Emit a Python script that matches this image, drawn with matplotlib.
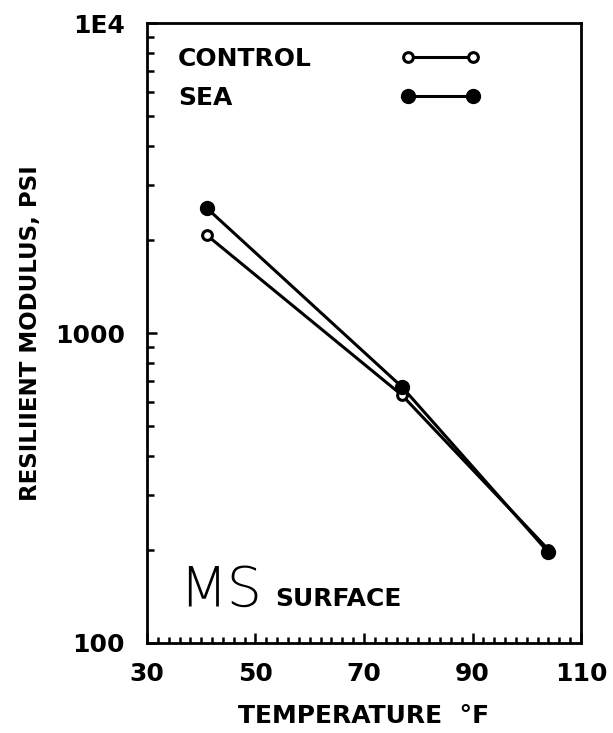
import numpy as np
import matplotlib.pyplot as plt
from matplotlib.ticker import FixedLocator, MultipleLocator, LogLocator, NullFormatter

# temperatures (deg F) and resilient modulus (psi)
temperature = [41, 77, 104]
control = [2070, 630, 200]
sea = [2530, 670, 196]

x_ticks = [30, 50, 70, 90, 110]
y_ticks = [100, 1000, 10000]
y_tick_labels = ["100", "1000", "1E4"]

plt.rcParams['font.family'] = ['DejaVu Sans']

fig = plt.figure(figsize=(6.13, 7.33), dpi=100)
ax = fig.add_axes([0.2398, 0.1228, 0.708, 0.8458])

l1, = ax.plot(temperature, control, color="black", lw=2.2, marker="o", ms=7,
              mfc="white", mec="black", mew=2.2, label="CONTROL")
l2, = ax.plot(temperature, sea, color="black", lw=2.2, marker="o", ms=10,
              mfc="black", mec="black", label="SEA")

ax.set_yscale("log")
ax.set_xlim(30, 110)
ax.set_ylim(100, 10000)

ax.xaxis.set_major_locator(FixedLocator(x_ticks))
ax.xaxis.set_minor_locator(MultipleLocator(2))
ax.yaxis.set_major_locator(FixedLocator(y_ticks))
ax.yaxis.set_minor_locator(LogLocator(base=10, subs=np.arange(2, 10)))
ax.yaxis.set_minor_formatter(NullFormatter())
ax.set_xticklabels([str(t) for t in x_ticks])
ax.set_yticklabels(y_tick_labels)

for s in ax.spines.values():
    s.set_linewidth(2.0)

ax.tick_params(axis="both", which="both", direction="in", top=False, right=False,
               width=1.8)
ax.tick_params(axis="x", which="major", length=7, pad=14, labelsize=18)
ax.tick_params(axis="x", which="minor", length=4)
ax.tick_params(axis="y", which="major", length=7, pad=16, labelsize=18)
ax.tick_params(axis="y", which="minor", length=5)
for lbl in ax.get_xticklabels() + ax.get_yticklabels():
    lbl.set_fontweight("bold")

ax.set_xlabel("TEMPERATURE  \u00b0F", fontsize=18, fontweight="bold", labelpad=13)
ax.set_ylabel("RESILIIENT MODULUS, PSI", fontsize=16.5, fontweight="bold", labelpad=9)

# legend: labels on the left, line samples on the right
leg_kw = dict(loc="upper left", frameon=False, numpoints=2, borderpad=0,
              borderaxespad=0, labelspacing=0.6,
              prop={"weight": "bold", "size": 18})
leg_text = ax.legend([l1, l2], ["CONTROL", "SEA"], bbox_to_anchor=(0.071, 0.961),
                     handlelength=0, handletextpad=0, **leg_kw)
for h in leg_text.legend_handles:
    h.set_visible(False)
ax.add_artist(leg_text)
ax.legend([l1, l2], ["", ""], bbox_to_anchor=(0.585, 0.961),
          handlelength=3.2, handletextpad=0, **leg_kw)

ax.text(0.075, 0.06, "MS", transform=ax.transAxes, fontsize=40,
        fontweight="light", va="baseline")
ax.text(0.295, 0.06, "SURFACE", transform=ax.transAxes, fontsize=18,
        fontweight="bold", va="baseline")

fig.savefig("out.png", dpi=100)
